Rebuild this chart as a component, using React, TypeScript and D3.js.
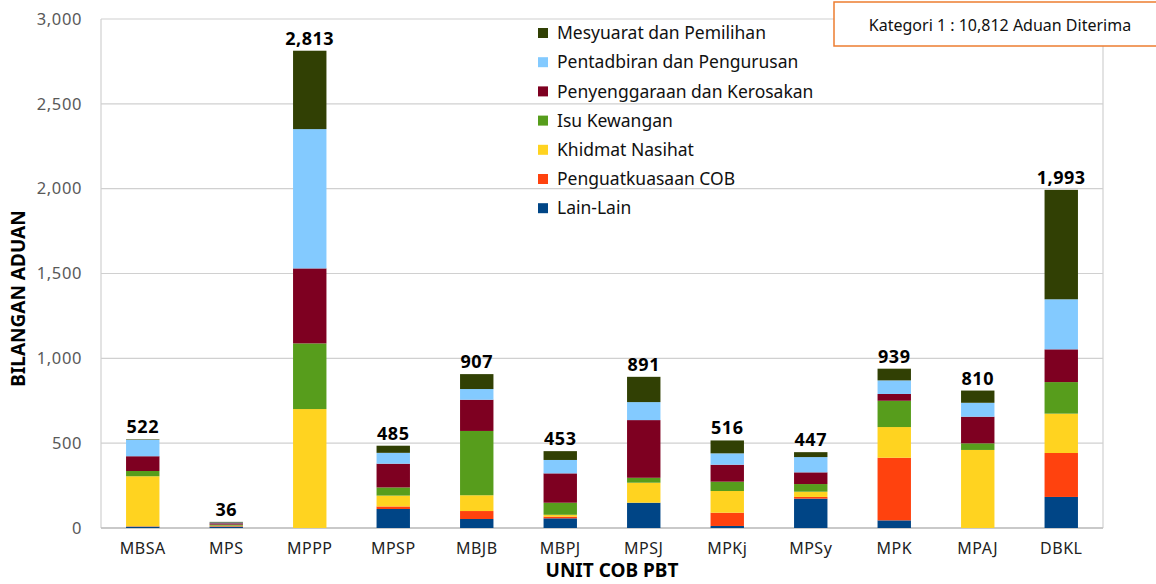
import React from 'react';
import * as d3 from 'd3';

const units = ['MBSA', 'MPS', 'MPPP', 'MPSP', 'MBJB', 'MBPJ', 'MPSJ', 'MPKj', 'MPSy', 'MPK', 'MPAJ', 'DBKL'];

// stack order, bottom to top
const seriesNames = [
  'Lain-Lain',
  'Penguatkuasaan COB',
  'Khidmat Nasihat',
  'Isu Kewangan',
  'Penyenggaraan dan Kerosakan',
  'Pentadbiran dan Pengurusan',
  'Mesyuarat dan Pemilihan',
];
const seriesColors = ['#004586', '#ff420e', '#ffd320', '#579d1c', '#7e0021', '#83caff', '#314004'];

const lainLain = [8, 8, 0, 112, 53, 57, 149, 12, 173, 45, 0, 183];
const penguatkuasaan = [2, 3, 0, 15, 47, 10, 0, 78, 10, 369, 0, 259];
const khidmat = [295, 3, 701, 64, 93, 11, 118, 128, 31, 181, 460, 232];
const kewangan = [31, 6, 387, 48, 379, 71, 29, 55, 45, 155, 39, 186];
const penyenggaraan = [87, 8, 442, 140, 184, 173, 340, 100, 69, 40, 157, 193];
const pentadbiran = [96, 4, 821, 64, 63, 79, 106, 67, 90, 80, 82, 295];
const mesyuarat = [3, 4, 462, 42, 88, 52, 149, 76, 29, 69, 72, 645];

const yTicks = [0, 500, 1000, 1500, 2000, 2500, 3000];

const W = 1156;
const H = 584;
const left = 101;
const right = 1103;
const top = 19;
const bottom = 528;
const font = '"Noto Sans", sans-serif';

export default function App() {
  const seriesValues = [lainLain, penguatkuasaan, khidmat, kewangan, penyenggaraan, pentadbiran, mesyuarat];
  const rows = units.map((u, i) => {
    const r: any = { unit: u };
    seriesNames.forEach((s, k) => (r[s] = seriesValues[k][i]));
    return r;
  });
  const stacked = d3.stack<any>().keys(seriesNames)(rows);
  const totals = units.map((_, i) => d3.sum(seriesValues, (v) => v[i]));

  const x = d3.scaleBand().domain(units).range([left, right]).paddingInner(0.6).paddingOuter(0.3);
  const y = d3.scaleLinear().domain([0, 3000]).range([bottom, top]);
  const fmt = d3.format(',');

  const legendOrder = [...seriesNames.keys()].reverse();

  return (
    <svg width={W} height={H} style={{ position: 'absolute', left: 0, top: 0, background: '#fff' }}>
      {yTicks.map((t) => (
        <g key={t}>
          <line x1={left} x2={right} y1={y(t)} y2={y(t)} stroke="#d0d0d0" strokeWidth={1.2} />
          <text x={82} y={y(t)} dy="0.35em" textAnchor="end" fontFamily={font} fontSize={16.5} letterSpacing={0.6} fill="#595959">
            {fmt(t)}
          </text>
        </g>
      ))}
      <line x1={left} x2={left} y1={top} y2={bottom} stroke="#d0d0d0" strokeWidth={1.2} />
      <line x1={right} x2={right} y1={top} y2={bottom} stroke="#d0d0d0" strokeWidth={1.2} />
      <line x1={left} x2={right} y1={bottom} y2={bottom} stroke="#bfbfbf" strokeWidth={1.5} />

      {stacked.map((s, k) => (
        <g key={s.key} fill={seriesColors[k]}>
          {s.map((d, i) => (
            <rect
              key={units[i]}
              x={x(units[i])}
              width={x.bandwidth()}
              y={y(d[1])}
              height={Math.max(0, y(d[0]) - y(d[1]))}
            />
          ))}
        </g>
      ))}

      {totals.map((t, i) => (
        <text
          key={units[i]}
          x={(x(units[i]) as number) + x.bandwidth() / 2}
          y={y(t) - 6}
          textAnchor="middle"
          fontFamily={font}
          fontSize={18}
          fontWeight="bold"
          letterSpacing={0.5}
          fill="#000"
        >
          {fmt(t)}
        </text>
      ))}

      {units.map((u) => (
        <text
          key={u}
          x={(x(u) as number) + x.bandwidth() / 2}
          y={554}
          textAnchor="middle"
          fontFamily={font}
          fontSize={16}
          letterSpacing={0.5}
          fill="#222"
        >
          {u}
        </text>
      ))}

      {legendOrder.map((k, j) => (
        <g key={seriesNames[k]} transform={`translate(538, ${33 + j * 29.2})`}>
          <rect x={0} y={-5} width={10} height={10} fill={seriesColors[k]} />
          <text x={19} y={0} dy="0.35em" fontFamily={font} fontSize={17.5} fill="#111">
            {seriesNames[k]}
          </text>
        </g>
      ))}

      <text
        transform={`translate(25, ${(top + bottom) / 2 + 25}) rotate(-90)`}
        textAnchor="middle"
        fontFamily={font}
        fontSize={19}
        fontWeight="bold"
        fill="#000"
      >
        BILANGAN ADUAN
      </text>
      <text x={612} y={577} textAnchor="middle" fontFamily={font} fontSize={19} fontWeight="bold" fill="#000">
        UNIT COB PBT
      </text>

      <rect x={834} y={2} width={330} height={44} fill="#fff" stroke="#ed7d31" strokeWidth={1.5} />
      <text x={1000} y={25} dy="0.35em" textAnchor="middle" fontFamily={font} fontSize={16} fill="#111">
        Kategori 1 : 10,812 Aduan Diterima
      </text>
    </svg>
  );
}
